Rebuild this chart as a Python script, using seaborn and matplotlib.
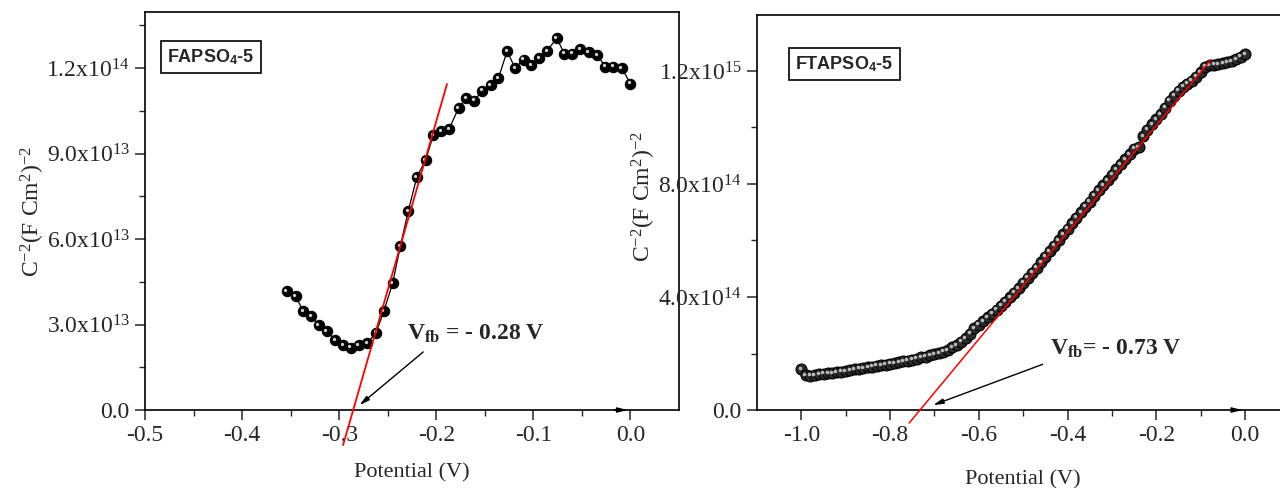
import numpy as np
import pandas as pd
import seaborn as sns
import matplotlib.pyplot as plt
from matplotlib.transforms import offset_copy

# FAPSO4-5 Mott-Schottky points (C^-2 given in units of 1e13)
fapso_potential = [-0.354, -0.345, -0.337, -0.329, -0.321, -0.313, -0.304, -0.296, -0.288,
                   -0.280, -0.271, -0.262, -0.254, -0.245, -0.237, -0.229, -0.220, -0.211,
                   -0.203, -0.195, -0.187, -0.177, -0.169, -0.161, -0.153, -0.144, -0.136,
                   -0.127, -0.119, -0.110, -0.102, -0.094, -0.086, -0.076, -0.068, -0.060,
                   -0.052, -0.043, -0.034, -0.026, -0.018, -0.009, 0.000]
fapso_c2 = [4.18, 4.00, 3.47, 3.30, 2.98, 2.77, 2.46, 2.28, 2.18,
            2.28, 2.35, 2.72, 3.47, 4.45, 5.75, 6.97, 8.18, 8.77,
            9.65, 9.79, 9.85, 10.6, 10.95, 10.85, 11.2, 11.4, 11.65,
            12.6, 12.0, 12.3, 12.1, 12.35, 12.6, 13.05, 12.5, 12.5,
            12.67, 12.56, 12.45, 12.05, 12.05, 12.0, 11.45]
fapso_fit_x = [-0.296, -0.189]
fapso_fit_y = [-1.23, 11.44]

# FTAPSO4-5 Mott-Schottky points (C^-2 given in units of 1e14)
ftapso_potential = [-1.00, -0.99, -0.98, -0.97, -0.96, -0.95, -0.94, -0.93, -0.92, -0.91,
                    -0.90, -0.89, -0.88, -0.87, -0.86, -0.85, -0.84, -0.83, -0.82, -0.81,
                    -0.80, -0.79, -0.78, -0.77, -0.76, -0.75, -0.74, -0.73, -0.72, -0.71,
                    -0.70, -0.69, -0.68, -0.67, -0.66, -0.65, -0.64, -0.63, -0.62, -0.61,
                    -0.60, -0.59, -0.58, -0.57, -0.56, -0.55, -0.54, -0.53, -0.52, -0.51,
                    -0.50, -0.49, -0.48, -0.47, -0.46, -0.45, -0.44, -0.43, -0.42, -0.41,
                    -0.40, -0.39, -0.38, -0.37, -0.36, -0.35, -0.34, -0.33, -0.32, -0.31,
                    -0.30, -0.29, -0.28, -0.27, -0.26, -0.25, -0.24, -0.23, -0.22, -0.21,
                    -0.20, -0.19, -0.18, -0.17, -0.16, -0.15, -0.14, -0.13, -0.12, -0.11,
                    -0.10, -0.09, -0.08, -0.07, -0.06, -0.05, -0.04, -0.03, -0.02, -0.01,
                    0.00]
ftapso_c2 = [1.45, 1.24, 1.21, 1.24, 1.26, 1.28, 1.30, 1.31, 1.33, 1.35,
             1.38, 1.41, 1.44, 1.46, 1.48, 1.51, 1.54, 1.57, 1.59, 1.61,
             1.64, 1.66, 1.69, 1.72, 1.75, 1.78, 1.82, 1.86, 1.89, 1.93,
             1.97, 2.01, 2.06, 2.12, 2.22, 2.30, 2.42, 2.55, 2.70, 2.89,
             3.02, 3.15, 3.28, 3.41, 3.55, 3.69, 3.84, 3.99, 4.15, 4.32,
             4.50, 4.68, 4.86, 5.04, 5.23, 5.42, 5.62, 5.81, 6.02, 6.22,
             6.42, 6.61, 6.80, 7.00, 7.19, 7.38, 7.58, 7.77, 7.95, 8.14,
             8.33, 8.52, 8.70, 8.88, 9.05, 9.25, 9.30, 9.70, 9.92, 10.12,
             10.30, 10.48, 10.70, 10.95, 11.12, 11.30, 11.45, 11.55, 11.65, 11.80,
             11.95, 12.15, 12.20, 12.22, 12.24, 12.27, 12.30, 12.35, 12.42, 12.50,
             12.60]
ftapso_fit_x = [-0.757, -0.0773]
ftapso_fit_y = [-0.46, 12.39]

# ticks and labels
fapso_xticks = [-0.5, -0.4, -0.3, -0.2, -0.1, 0.0]
fapso_yticks = [0, 3e13, 6e13, 9e13, 1.2e14]
fapso_ylabels = ['0.0', '3.0x10$^{13}$', '6.0x10$^{13}$', '9.0x10$^{13}$', '1.2x10$^{14}$']
ftapso_xticks = [-1.0, -0.8, -0.6, -0.4, -0.2, 0.0]
ftapso_yticks = [0, 4e14, 8e14, 1.2e15]
ftapso_ylabels = ['0.0', '4.0x10$^{14}$', '8.0x10$^{14}$', '1.2x10$^{15}$']

sns.set_style('ticks')
plt.rcParams['font.family'] = ['Liberation Serif', 'DejaVu Serif']
plt.rcParams['mathtext.fontset'] = 'custom'
plt.rcParams['mathtext.rm'] = 'Liberation Serif'
plt.rcParams['mathtext.it'] = 'Liberation Serif:italic'
plt.rcParams['mathtext.bf'] = 'Liberation Serif:bold'
plt.rcParams['mathtext.sf'] = 'Liberation Sans:bold'
plt.rcParams['axes.unicode_minus'] = False

ylabel_text = 'C$^{-2}$(F Cm$^{2}$)$^{-2}$'


def style_axes(ax, xticks, yticks, ylabels, xminor, yminor):
    ax.set_xticks(xticks)
    ax.set_xticklabels([f'{t:.1f}' for t in xticks])
    ax.set_yticks(yticks)
    ax.set_yticklabels(ylabels)
    ax.set_xticks(xminor, minor=True)
    ax.set_yticks(yminor, minor=True)
    ax.tick_params(which='major', direction='out', length=7, width=1.1,
                   labelsize=17, top=False, right=False, pad=4)
    ax.tick_params(which='minor', direction='out', length=4, width=1.0,
                   top=False, right=False)
    for sp in ax.spines.values():
        sp.set_linewidth(1.2)
        sp.set_color('black')
    ax.set_facecolor('white')


def shine(ax, x, y, size, color='#cfcfcf'):
    # small highlight to mimic the shaded spheres
    tr = offset_copy(ax.transData, fig=ax.figure, x=-1.4, y=1.4, units='dots')
    ax.plot(x, y, 'o', ms=size, color=color, mec='none', transform=tr, zorder=4)


fig = plt.figure(figsize=(12.8, 4.88), dpi=100)

# left panel: FAPSO4-5
df1 = pd.DataFrame({'V': fapso_potential, 'C2': np.array(fapso_c2) * 1e13})
ax1 = fig.add_axes([0.1133, 0.1598, 0.4172, 0.8146])
sns.lineplot(data=df1, x='V', y='C2', sort=False, color='black', lw=0.9,
             marker='o', markersize=7.5, markeredgecolor='black', ax=ax1, zorder=3)
shine(ax1, df1['V'], df1['C2'], 2.4)
ax1.plot(fapso_fit_x, np.array(fapso_fit_y) * 1e13, color='red', lw=1.3,
         clip_on=False, zorder=6)
ax1.set_xlim(-0.5, 0.05)
ax1.set_ylim(0, 1.395e14)
style_axes(ax1, fapso_xticks, fapso_yticks, fapso_ylabels,
           np.arange(-0.45, 0.05, 0.1), np.arange(1.5e13, 1.4e14, 3e13))
ax1.set_xlabel('Potential (V)', fontsize=16, labelpad=12)
ax1.set_ylabel(ylabel_text, fontsize=17)
ax1.yaxis.set_label_coords(-0.184, 0.5)
ax1.text(0.1236, 0.888, 'FAPSO$_\\mathsf{4}$-5', transform=ax1.transAxes,
         fontsize=13, fontweight='bold', family='Liberation Sans', ha='center', va='center',
         bbox=dict(boxstyle='square,pad=0.35', fc='white', ec='black', lw=1.2))
ax1.annotate('', xy=(-0.2814, 1.05e12), xytext=(-0.2113, 2.1e13),
             arrowprops=dict(arrowstyle='-|>,head_width=0.15,head_length=0.6',
                             color='black', lw=1.0))
ax1.text(-0.230, 2.46e13, r'$\mathbf{V_{fb}}$ = - 0.28 V', fontsize=17,
         fontweight='bold', ha='left', va='baseline')
ax1.annotate('', xy=(0, 0), xytext=(-0.02, 0),
             arrowprops=dict(arrowstyle='-|>,head_width=0.15,head_length=0.6',
                             color='black', lw=1.0), annotation_clip=False)

# right panel: FTAPSO4-5
df2 = pd.DataFrame({'V': ftapso_potential, 'C2': np.array(ftapso_c2) * 1e14})
ax2 = fig.add_axes([0.5914, 0.1598, 0.416, 0.8094])
sns.scatterplot(data=df2, x='V', y='C2', color='#2a2a2a', edgecolor='black',
                linewidth=0.8, s=62, ax=ax2, zorder=3)
shine(ax2, df2['V'], df2['C2'], 2.6, color='#b8b8b8')
ax2.plot(ftapso_fit_x, np.array(ftapso_fit_y) * 1e14, color='red', lw=1.1,
         clip_on=False, zorder=6)
ax2.set_xlim(-1.1, 0.1)
ax2.set_ylim(0, 1.398e15)
style_axes(ax2, ftapso_xticks, ftapso_yticks, ftapso_ylabels,
           np.arange(-0.9, 0.1, 0.2), np.arange(2e14, 1.4e15, 4e14))
ax2.set_xlabel('Potential (V)', fontsize=16, labelpad=17)
ax2.set_ylabel(ylabel_text, fontsize=17)
ax2.yaxis.set_label_coords(-0.186, 0.54)
ax2.text(0.164, 0.876, 'FTAPSO$_\\mathsf{4}$-5', transform=ax2.transAxes,
         fontsize=13, fontweight='bold', family='Liberation Sans', ha='center', va='center',
         bbox=dict(boxstyle='square,pad=0.35', fc='white', ec='black', lw=1.2))
ax2.annotate('', xy=(-0.709, 1.4e13), xytext=(-0.4506, 1.65e14),
             arrowprops=dict(arrowstyle='-|>,head_width=0.15,head_length=0.6',
                             color='black', lw=1.0))
ax2.text(-0.4404, 1.95e14, r'$\mathbf{V_{fb}}$= - 0.73 V', fontsize=17,
         fontweight='bold', ha='left', va='baseline')
ax2.annotate('', xy=(0, 0), xytext=(-0.02, 0),
             arrowprops=dict(arrowstyle='-|>,head_width=0.15,head_length=0.6',
                             color='black', lw=1.0), annotation_clip=False)

fig.savefig('out.png', dpi=100)
plt.close(fig)
